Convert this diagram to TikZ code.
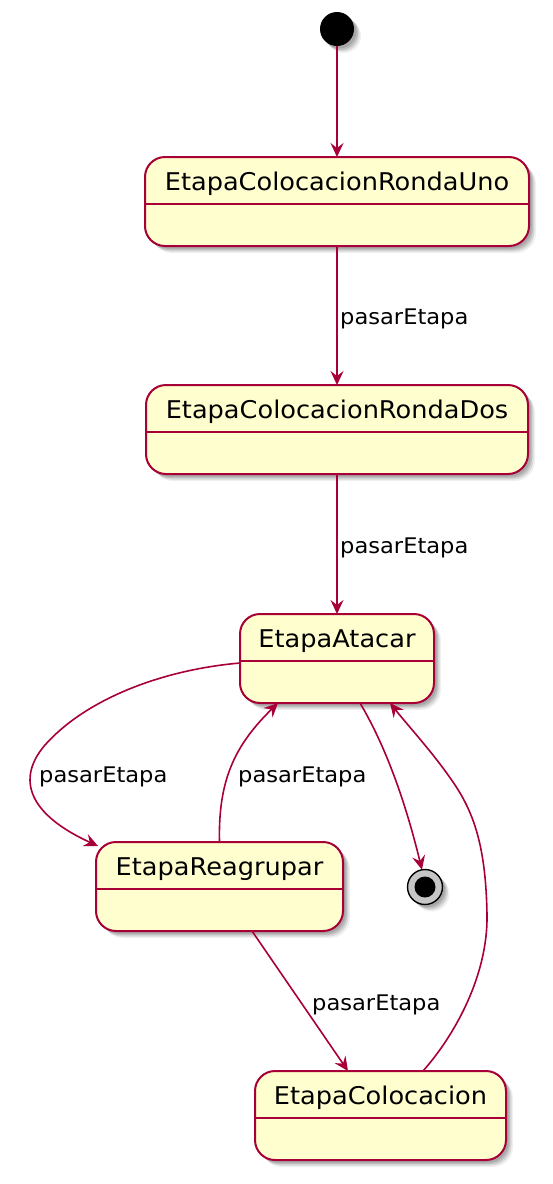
\documentclass[tikz,border=0pt]{standalone}
\usepackage{fontspec}
\setmainfont{DejaVu Sans}[FakeStretch=1.05]
\usetikzlibrary{arrows.meta,calc}
\definecolor{umlborder}{HTML}{A80036}
\definecolor{umlfill}{HTML}{FEFECE}
\begin{document}
\begin{tikzpicture}[x=1pt,y=-1pt,
  shadowed/.style={
    preaction={fill=black,opacity=0.12,transform canvas={xshift=2.5pt,yshift=-2.5pt}},
    preaction={fill=black,opacity=0.12,transform canvas={xshift=4pt,yshift=-4pt}},
    preaction={fill=black,opacity=0.10,transform canvas={xshift=5.5pt,yshift=-5.5pt}},
    preaction={fill=black,opacity=0.06,transform canvas={xshift=7pt,yshift=-7pt}}},
  statebox/.style={shadowed, rectangle, draw=umlborder, fill=umlfill, line width=2pt,
    rounded corners=20pt, inner sep=0pt, outer sep=0pt},
  statename/.style={font=\fontsize{24.4}{29}\selectfont, anchor=base, inner sep=0pt},
  sepline/.style={draw=umlborder, line width=2pt},
  edge/.style={draw=umlborder, line width=1.6pt, -{Stealth[length=14pt,width=13pt,inset=5pt]}},
  edgelabel/.style={font=\fontsize{21.5}{26}\selectfont, anchor=base west, inner sep=0pt},
  startnode/.style={shadowed, circle, fill=black, minimum size=34pt, inner sep=0pt, outer sep=0pt},
  endnode/.style={shadowed, circle, draw=black, line width=1.4pt, fill=gray!45,
    minimum size=35pt, inner sep=0pt, outer sep=0pt},
  endcore/.style={circle, fill=black, minimum size=21pt, inner sep=0pt, outer sep=0pt}]
\useasboundingbox (0,0) rectangle (553,1184);

% start and end
\node[startnode] (s0) at (337,29) {};
\node[endnode] (e) at (425,887) {};
\node[endcore] (ec) at (e.center) {};

% states
\node[statebox, minimum width=384pt, minimum height=89pt] (s1) at (337,201.5) {};
\node[statename] (s1t) at ($(s1.north)+(0,33)$) {EtapaColocacionRondaUno};
\draw[sepline] ($(s1.north west)+(0,47)$) -- ($(s1.north east)+(0,47)$);

\node[statebox, minimum width=382pt, minimum height=89pt] (s2) at (337,429.5) {};
\node[statename] (s2t) at ($(s2.north)+(0,33)$) {EtapaColocacionRondaDos};
\draw[sepline] ($(s2.north west)+(0,47)$) -- ($(s2.north east)+(0,47)$);

\node[statebox, minimum width=194pt, minimum height=89pt] (s3) at (337,658.5) {};
\node[statename] (s3t) at ($(s3.north)+(0,33)$) {EtapaAtacar};
\draw[sepline] ($(s3.north west)+(0,47)$) -- ($(s3.north east)+(0,47)$);

\node[statebox, minimum width=247pt, minimum height=89pt] (s4) at (219.5,886.5) {};
\node[statename] (s4t) at ($(s4.north)+(0,33)$) {EtapaReagrupar};
\draw[sepline] ($(s4.north west)+(0,47)$) -- ($(s4.north east)+(0,47)$);

\node[statebox, minimum width=251pt, minimum height=89pt] (s5) at (380.5,1115.5) {};
\node[statename] (s5t) at ($(s5.north)+(0,33)$) {EtapaColocacion};
\draw[sepline] ($(s5.north west)+(0,47)$) -- ($(s5.north east)+(0,47)$);

% transitions
\draw[edge] (s0.south) -- (s1.north);
\draw[edge] (s1.south) -- (s2.north);
\node[edgelabel] (l1) at (340,324) {pasarEtapa};
\draw[edge] (s2.south) -- (s3.north);
\node[edgelabel] (l2) at (340,553) {pasarEtapa};

\draw[edge] ($(s3.north west)+(0,49)$) .. controls (160,670) and (85,700) .. (45,745)
  .. controls (15,780) and (30,815) .. ($(s4.north west)+(2,4)$);
\node[edgelabel] (l3) at (39,782) {pasarEtapa};

\draw[edge] (s4.north) .. controls (218,780) and (235,745) .. ($(s3.south)+(-59,0)$);
\node[edgelabel] (l4) at (238,782) {pasarEtapa};

\draw[edge] ($(s3.south)+(23,0)$) .. controls (385,745) and (405,800) .. (e.100);

\draw[edge] ($(s4.south)+(32.5,0)$) -- ($(s5.north)+(-32.5,0)$);
\node[edgelabel] (l5) at (312,1010) {pasarEtapa};

\draw[edge] ($(s5.north)+(42.5,0)$) .. controls (455,1035) and (488,975) .. (487,915)
  .. controls (486,850) and (475,815) .. (455,785)
  .. controls (435,755) and (410,728) .. ($(s3.south)+(53,0)$);
\end{tikzpicture}
\end{document}
